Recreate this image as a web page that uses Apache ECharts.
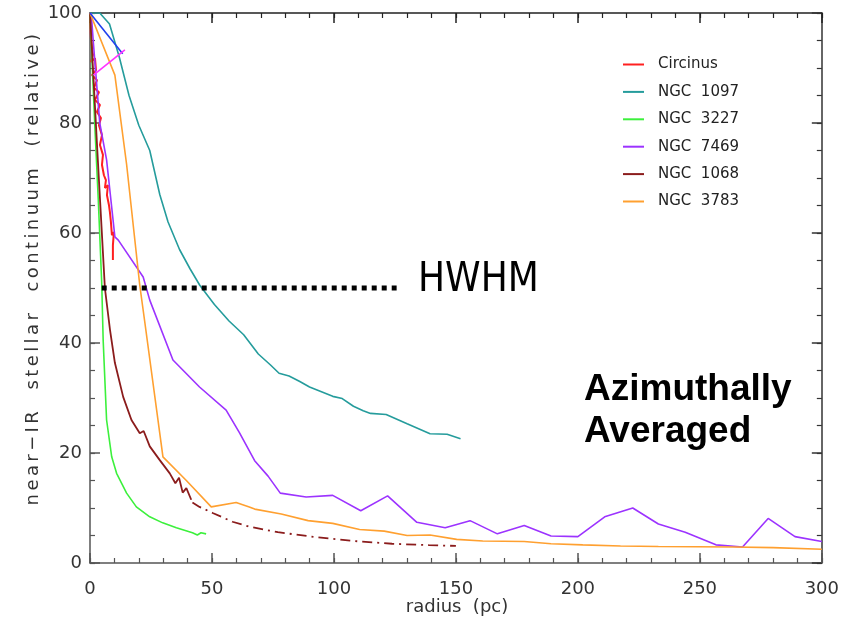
<!DOCTYPE html>
<html>
<head>
<meta charset="utf-8">
<script src="https://cdn.jsdelivr.net/npm/echarts@6/dist/echarts.min.js"></script>
<style>html,body{margin:0;padding:0;background:#fff;}#c{width:842px;height:630px;}</style>
</head>
<body>
<div id="c"></div>
<script>
// ---- data (radius in pc, relative continuum) ----
const legendNames = ['Circinus', 'NGC  1097', 'NGC  3227', 'NGC  7469', 'NGC  1068', 'NGC  3783'];
const xTicks = [0, 50, 100, 150, 200, 250, 300];
const yTicks = [0, 20, 40, 60, 80, 100];
const xName = 'radius  (pc)';
const yName = 'near\u2212IR  stellar  continuum  (relative)';

const circinus = [[0,100],[0.41,95.1],[1.22,92.4],[0.41,91.1],[2.04,91.8],[2.45,89.6],[0.82,88.7],[2.86,87.8],[1.63,86.4],[3.67,85.6],[2.04,84.2],[4.08,83.3],[2.86,82.0],[4.49,80.9],[3.67,79.6],[4.9,77.8],[4.08,76.0],[5.31,74.2],[4.9,72.4],[5.71,70.5],[6.53,69.6],[6.12,68.2],[7.35,68.7],[6.94,66.9],[7.76,65.1],[8.16,63.8],[8.57,62.0],[8.98,59.6],[9.8,60.2],[9.39,57.8],[9.39,55.1]];
const ngc1097 = [[0,100],[4,100],[8,98],[12,92],[16,85],[20,79.6],[24.5,75],[28.6,67],[32,62],[36.7,57],[41,53.5],[45,50.5],[51,47],[57,44],[63,41.5],[69,38],[74,36],[77.5,34.5],[81.6,34],[86,33],[90,32],[99.5,30.3],[103.4,29.9],[108,28.5],[112,27.7],[115,27.2],[121.4,27],[130,25.3],[139.4,23.5],[146.4,23.4],[151.9,22.6]];
const ngc3227 = [[0,100],[2,79.3],[3.4,66],[4.8,51],[5.4,40.5],[6.8,26],[8.9,19.3],[10.9,16.3],[15,12.7],[19,10.2],[24.5,8.4],[29.8,7.3],[35.4,6.4],[42,5.5],[44,5.1],[45.5,5.5],[47.6,5.3]];
const ngc7469 = [[0.5,100],[1.4,94.5],[4,80],[6.8,73.3],[10.2,59.3],[11.6,58.7],[21.8,52],[24.5,47.8],[34,36.9],[44.9,32],[55.8,27.8],[61.25,23.7],[67.5,18.6],[73,15.8],[78,12.7],[88.6,12],[99.5,12.3],[111,9.5],[122,12.2],[134,7.4],[145.6,6.4],[155.8,7.7],[167,5.3],[178,6.8],[189,4.9],[200,4.8],[211,8.4],[222.5,10],[233,7.1],[244,5.6],[256.6,3.3],[267.5,2.9],[278,8.1],[289,4.8],[300,3.9]];
const ngc1068 = [[0,100],[3,75],[6.1,50],[8.2,42.4],[10.2,36.4],[13.6,30.2],[17,26],[20.4,23.6],[22,24],[24.5,21.2],[28.6,18.7],[32.7,16.3],[35,14.5],[36.5,15.5],[38,12.8],[39.5,13.6],[41.5,11.5]];
const ngc1068ext = [[42,11],[44.9,10.2],[50.3,9.1],[58.4,7.5],[65.3,6.6],[77,5.6],[92.5,4.7],[108,4],[123.8,3.5],[139,3.25],[150,3.1]];
const ngc3783 = [[0,100],[10.2,88.7],[15,72.5],[20.4,50.5],[22.4,44],[29.9,19.3],[39.5,15],[49.7,10.2],[59.9,11],[65.3,10.2],[67.5,9.8],[78.4,8.9],[89.4,7.7],[99.5,7.2],[110.5,6.1],[120.6,5.8],[130,5],[139.4,5.1],[150.3,4.3],[161,4],[178,3.9],[189,3.5],[202,3.3],[217.5,3.1],[233,3],[264,2.9],[280,2.8],[300,2.5]];
const blueSeg = [[0,100],[13.4,92.6]];
const magentaSeg = [[1.4,88.7],[14.3,93.3]];
const hwhm = [[4.8,50],[125.7,50]];

const colors = ['#ff2020', '#259c9c', '#3cf03c', '#9c33ff', '#8b1c1c', '#ffa030'];

// wide letter spacing only for the y-axis title (as in the original IDL plot)
(function () {
  const proto = CanvasRenderingContext2D.prototype;
  const orig = proto.fillText;
  proto.fillText = function (t, x, y, w) {
    if ('letterSpacing' in this) this.letterSpacing = (t === yName) ? '3.4px' : '0px';
    const r = w === undefined ? orig.call(this, t, x, y) : orig.call(this, t, x, y, w);
    if ('letterSpacing' in this) this.letterSpacing = '0px';
    return r;
  };
})();

const chart = echarts.init(document.getElementById('c'), null, {renderer: 'canvas'});
const axisColor = '#555';
const labelFont = {fontFamily: 'DejaVu Sans', fontSize: 18, color: '#333'};

function line(name, data, color, width, extra) {
  return Object.assign({
    name: name, type: 'line', data: data, showSymbol: false, symbol: 'none',
    xAxisIndex: 0, yAxisIndex: 0,
    lineStyle: {color: color, width: width}, itemStyle: {color: color},
    animation: false, z: 3
  }, extra || {});
}
// major axis: line + long inward ticks
function majorAxis(pos, max, interval, color, label) {
  return {
    type: 'value', min: 0, max: max, interval: interval, position: pos,
    axisLine: {show: true, onZero: false, lineStyle: {color: color, width: 1.5}},
    axisTick: {show: true, inside: true, length: 10, lineStyle: {color: color, width: 1.5}},
    splitLine: {show: false},
    axisLabel: label || {show: false}
  };
}
// minor axis: only short inward ticks
function minorAxis(pos, max, interval, color) {
  return {
    type: 'value', min: 0, max: max, interval: interval, position: pos,
    axisLine: {show: false, onZero: false},
    axisTick: {show: true, inside: false, length: -5, lineStyle: {color: color, width: 1.2}},
    splitLine: {show: false},
    axisLabel: {show: false}
  };
}

const option = {
  animation: false,
  backgroundColor: '#fff',
  grid: {left: 90, right: 17, top: 13, bottom: 67},
  legend: {
    data: legendNames,
    orient: 'vertical', left: 618, top: 50.5,
    icon: 'rect', itemWidth: 21, itemHeight: 2, itemGap: 9.4,
    textStyle: {fontFamily: 'DejaVu Sans', fontSize: 15, color: '#222', lineHeight: 18, padding: [0,0,0,9]},
    selectedMode: false
  },
  xAxis: [
    majorAxis('bottom', 300, 50, axisColor, Object.assign({margin: 17, formatter: v => xTicks.includes(v) ? String(v) : ''}, labelFont)),
    majorAxis('top', 300, 50, '#222'),
    minorAxis('bottom', 300, 10, axisColor),
    minorAxis('top', 300, 10, '#222')
  ],
  yAxis: [
    majorAxis('left', 100, 20, axisColor, Object.assign({margin: 8, formatter: v => yTicks.includes(v) ? String(v) : ''}, labelFont)),
    majorAxis('right', 100, 20, '#333'),
    minorAxis('left', 100, 5, axisColor),
    minorAxis('right', 100, 5, '#333')
  ],
  series: [
    line(legendNames[0], circinus, colors[0], 2),
    line(legendNames[1], ngc1097, colors[1], 1.6),
    line(legendNames[2], ngc3227, colors[2], 1.6),
    line(legendNames[3], ngc7469, colors[3], 1.6),
    line(legendNames[4], ngc1068, colors[4], 1.8),
    line(legendNames[5], ngc3783, colors[5], 1.6),
    line('ext1068', ngc1068ext, colors[4], 1.8, {lineStyle: {color: colors[4], width: 1.8, type: [10, 5, 2, 5]}}),
    line('blue', blueSeg, '#2040ee', 1.6),
    line('magenta', magentaSeg, '#ff33ff', 1.6),
    line('hwhm', hwhm, '#000', 5, {lineStyle: {color: '#000', width: 5, type: [5, 5]}, z: 4})
  ],
  graphic: [
    {type: 'text', left: 418, top: 261, style: {text: 'HWHM', fill: '#000', font: '40px "DejaVu Sans Condensed", "Liberation Sans Narrow", "Liberation Sans", sans-serif'}},
    {type: 'text', left: 584, top: 371, style: {text: 'Azimuthally', fill: '#000', font: 'bold 37px "Liberation Sans", sans-serif'}},
    {type: 'text', left: 584, top: 413, style: {text: 'Averaged', fill: '#000', font: 'bold 37px "Liberation Sans", sans-serif'}},
    {type: 'text', x: 457, y: 607, style: {text: xName, fill: '#333', font: '18px "DejaVu Sans"', align: 'center', verticalAlign: 'middle'}},
    {type: 'text', x: 33, y: 268, rotation: Math.PI / 2, style: {text: yName, fill: '#333', font: '18px "DejaVu Sans"', align: 'center', verticalAlign: 'middle'}}
  ]
};
chart.setOption(option);
</script>
</body>
</html>
